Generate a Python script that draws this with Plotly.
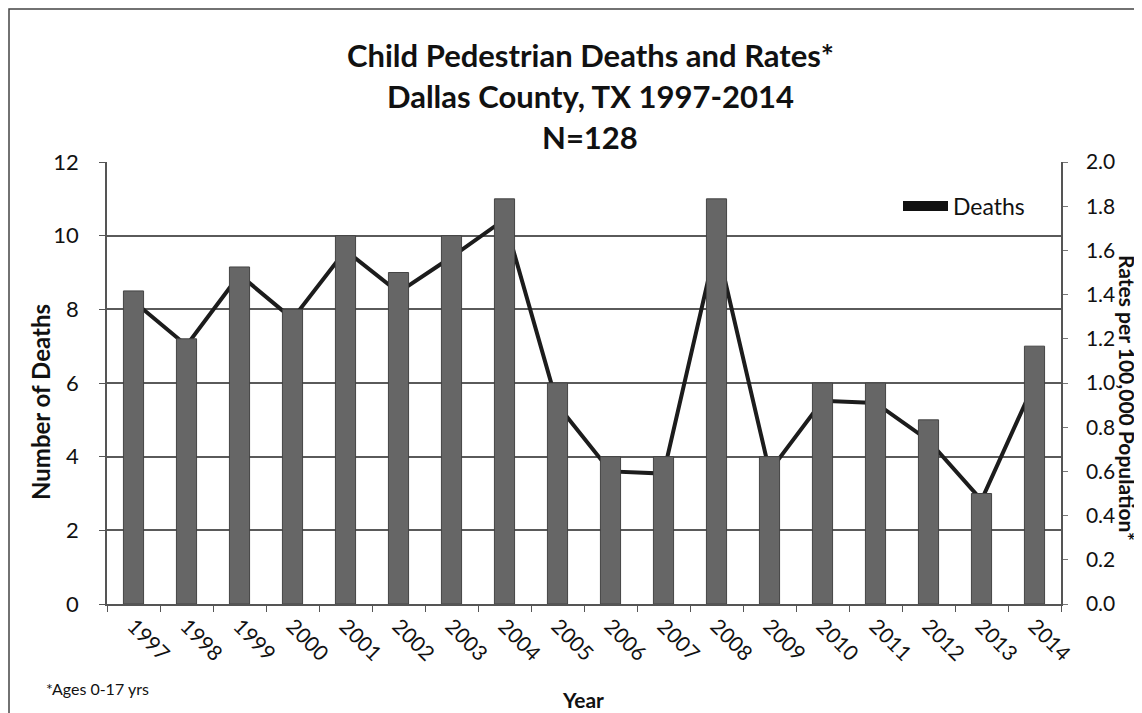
import plotly.graph_objects as go

years = ["1997", "1998", "1999", "2000", "2001", "2002", "2003", "2004", "2005",
         "2006", "2007", "2008", "2009", "2010", "2011", "2012", "2013", "2014"]
deaths = [8.5, 7.2, 9.15, 8, 10, 9, 10, 11, 6, 4, 4, 11, 4, 6, 6, 5, 3, 7]
rates = [1.37, 1.17, 1.49, 1.29, 1.60, 1.41, 1.57, 1.74, 0.90, 0.60, 0.59, 1.63,
         0.60, 0.92, 0.91, 0.74, 0.47, 1.00]
deaths_ticks = [0, 2, 4, 6, 8, 10, 12]
rate_ticks = [0.0, 0.2, 0.4, 0.6, 0.8, 1.0, 1.2, 1.4, 1.6, 1.8, 2.0]
title_lines = ["Child Pedestrian Deaths and Rates*", "Dallas County, TX 1997-2014", "N=128"]

FONT = "Lato"
OFF = 8  # page body margin
W, H = 1142 - OFF, 713 - OFF
L = 107 - OFF
T = 162 - OFF
R = (1142 - OFF) - (1061 - OFF)
B = (713 - OFF) - (604 - OFF)
PW, PH = W - L - R, H - T - B


def px_x(x):
    return (x - OFF - L) / PW


def px_y(y):
    return (H - B - (y - OFF)) / PH


fig = go.Figure()

# rate line (primary axis, drawn underneath the bars)
fig.add_trace(go.Scatter(
    x=years, y=rates, mode="lines", yaxis="y",
    line=dict(color="#1c1c1c", width=4), showlegend=False, name="Rate"))

# bars on overlaying axis so they are drawn on top of the line
fig.add_trace(go.Bar(
    x=years, y=deaths, yaxis="y2",
    marker=dict(color="#666666", line=dict(color="#444444", width=1)),
    showlegend=False, name="Deaths"))

# legend-only entry
fig.add_trace(go.Scatter(
    x=[None], y=[None], mode="lines", yaxis="y2",
    line=dict(color="#111111", width=12), name="Deaths", showlegend=True))

fig.update_layout(
    width=W, height=H,
    margin=dict(l=L, r=R, t=T, b=B),
    paper_bgcolor="white", plot_bgcolor="white",
    font=dict(family=FONT, color="#111111", size=21),
    bargap=0.62,
    xaxis=dict(
        type="category", tickson="boundaries", ticks="outside", ticklen=6,
        tickcolor="#555555", tickangle=45, showgrid=False,
        showline=True, linecolor="#555555", linewidth=1.5,
        tickfont=dict(size=21, family=FONT), anchor="y2"),
    yaxis=dict(
        side="right", range=[0, 2.0], tickvals=rate_ticks,
        ticktext=[f"{v:.1f}" for v in rate_ticks],
        ticks="outside", ticklen=5, tickcolor="#777777",
        showline=True, linecolor="#555555", linewidth=1.5,
        showgrid=False, zeroline=False, ticklabelstandoff=14,
        tickfont=dict(size=21, family=FONT)),
    yaxis2=dict(
        side="left", overlaying="y", range=[0, 12], tickvals=deaths_ticks,
        ticks="outside", ticklen=6, tickcolor="#555555",
        showline=True, linecolor="#555555", linewidth=1.5,
        showgrid=True, gridcolor="#5a5a5a", gridwidth=1.5, zeroline=False,
        ticklabelstandoff=16,
        tickfont=dict(size=22, family=FONT)),
    legend=dict(x=px_x(898), y=px_y(206), xanchor="left", yanchor="middle",
                bgcolor="rgba(0,0,0,0)", font=dict(size=23, family=FONT),
                itemwidth=45),
)

annotations = []
for txt, ypx in zip(title_lines, [55, 96, 137]):
    annotations.append(dict(
        text=f"<b>{txt}</b>", x=px_x(590), y=px_y(ypx), xref="paper", yref="paper",
        xanchor="center", yanchor="middle", showarrow=False,
        font=dict(size=31, family=FONT, color="#111111")))
annotations.append(dict(
    text="<b>Number of Deaths</b>", textangle=-90,
    x=px_x(40), y=px_y(402), xref="paper", yref="paper",
    xanchor="center", yanchor="middle", showarrow=False,
    font=dict(size=24, family=FONT, color="#111111")))
annotations.append(dict(
    text="<b>Rates per 100,000 Population*</b>", textangle=90,
    x=px_x(1128), y=px_y(398), xref="paper", yref="paper",
    xanchor="center", yanchor="middle", showarrow=False,
    font=dict(size=21, family=FONT, color="#111111")))
annotations.append(dict(
    text="<b>Year</b>", x=px_x(583), y=px_y(699), xref="paper", yref="paper",
    xanchor="center", yanchor="middle", showarrow=False,
    font=dict(size=21, family=FONT, color="#111111")))
annotations.append(dict(
    text="*Ages 0-17 yrs", x=px_x(44), y=px_y(688), xref="paper", yref="paper",
    xanchor="left", yanchor="middle", showarrow=False,
    font=dict(size=16, family=FONT, color="#111111")))
fig.update_layout(annotations=annotations)

# outer frame of the original chart
fig.add_shape(type="rect", xref="paper", yref="paper",
              x0=px_x(9), x1=px_x(1170), y0=px_y(740), y1=px_y(9),
              line=dict(color="#444444", width=1.5), fillcolor="rgba(0,0,0,0)",
              layer="below")

fig.write_html("out.html")
